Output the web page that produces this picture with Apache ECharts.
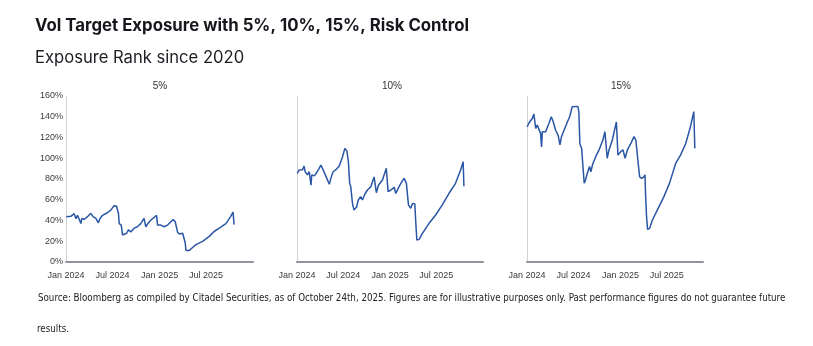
<!DOCTYPE html>
<html>
<head>
<meta charset="utf-8">
<script src="https://cdn.jsdelivr.net/npm/echarts@6/dist/echarts.min.js"></script>
<style>
  html, body { margin: 0; padding: 0; background: #ffffff; }
  #chart { width: 813px; height: 346px; }
</style>
</head>
<body>
<div id="chart"></div>
<script>
// Vol-target exposure rank, three risk-control levels
const panelTitles = ['5%', '10%', '15%'];
const tickDates = ['2024-01-01', '2024-07-01', '2025-01-01', '2025-07-01'];
const tickLabels = ['Jan 2024', 'Jul 2024', 'Jan 2025', 'Jul 2025'];

const dates5 = ['2024-01-02','2024-01-08','2024-01-20','2024-02-02','2024-02-09','2024-02-15','2024-02-22','2024-02-28','2024-03-03','2024-03-12','2024-03-25','2024-04-07','2024-04-16','2024-04-27','2024-05-06','2024-05-13','2024-05-23','2024-06-11','2024-06-24','2024-07-07','2024-07-16','2024-07-24','2024-07-27','2024-08-04','2024-08-09','2024-08-15','2024-08-25','2024-09-01','2024-09-10','2024-09-23','2024-10-06','2024-10-19','2024-11-01','2024-11-08','2024-11-15','2024-11-28','2024-12-20','2024-12-24','2025-01-06','2025-01-19','2025-02-01','2025-02-14','2025-02-23','2025-03-03','2025-03-12','2025-03-19','2025-04-01','2025-04-07','2025-04-11','2025-04-14','2025-04-27','2025-05-10','2025-05-23','2025-06-18','2025-07-14','2025-08-02','2025-08-22','2025-09-17','2025-10-06','2025-10-15','2025-10-19'];
const exposure5 = [43.7,45,44,46.6,41.8,45,41,37,42,41,43.7,46.9,43.7,42,37.8,42,45,47.5,50,54.3,54,47,37,35.6,26,25,27.7,30.9,29,32.6,34,37,42,34,36.6,40.5,45,35.6,35.6,34,35.6,38.8,41,38.8,29,27,27.7,27,18.6,11.2,11.2,14,16.7,19.9,24.7,29.4,32.6,37,44,48.2,36];

const dates10 = ['2024-01-02','2024-01-10','2024-01-16','2024-01-23','2024-01-29','2024-02-02','2024-02-08','2024-02-11','2024-02-18','2024-02-25','2024-02-28','2024-03-09','2024-03-18','2024-03-28','2024-04-04','2024-04-10','2024-04-17','2024-04-23','2024-04-30','2024-05-07','2024-05-13','2024-05-22','2024-06-02','2024-06-15','2024-06-28','2024-07-07','2024-07-15','2024-07-21','2024-07-26','2024-07-30','2024-08-06','2024-08-12','2024-08-22','2024-08-29','2024-09-07','2024-09-14','2024-09-25','2024-10-04','2024-10-17','2024-10-30','2024-11-08','2024-11-16','2024-12-02','2024-12-17','2024-12-24','2025-01-04','2025-01-17','2025-01-23','2025-02-05','2025-02-16','2025-02-25','2025-03-06','2025-03-14','2025-03-23','2025-03-30','2025-04-08','2025-04-12','2025-04-16','2025-04-25','2025-05-08','2025-06-03','2025-06-29','2025-07-25','2025-08-20','2025-09-15','2025-10-05','2025-10-15','2025-10-18'];
const exposure10 = [85.5,88.7,90.3,89,92.5,87,88.7,84,87,74,84,83,86,90.3,93.5,90.3,88.7,83,83,75,80.6,87,89,92.5,101.5,109.5,107,96.7,75.8,73,56.5,50,53,59.8,63,59.8,66,69.4,72.6,82,66.8,74,79,90.3,67.8,69.4,72,66,72.6,77.4,80.6,75.8,55,51.7,56.5,56,37.3,21.2,21.8,27.6,37.3,45.3,55,66,75.8,88.7,96.7,73];

const dates15 = ['2024-01-02','2024-01-08','2024-01-15','2024-01-22','2024-01-28','2024-02-04','2024-02-10','2024-02-16','2024-02-23','2024-02-27','2024-03-01','2024-03-07','2024-03-14','2024-03-27','2024-04-05','2024-04-13','2024-04-22','2024-05-02','2024-05-09','2024-05-15','2024-05-25','2024-06-07','2024-06-16','2024-06-26','2024-07-03','2024-07-18','2024-07-22','2024-07-26','2024-08-02','2024-08-07','2024-08-12','2024-08-17','2024-08-24','2024-09-02','2024-09-07','2024-09-15','2024-09-26','2024-10-09','2024-10-24','2024-11-01','2024-11-10','2024-11-17','2024-11-30','2024-12-16','2024-12-22','2025-01-02','2025-01-11','2025-01-19','2025-01-28','2025-02-10','2025-02-23','2025-03-02','2025-03-12','2025-03-17','2025-03-25','2025-04-03','2025-04-07','2025-04-09','2025-04-13','2025-04-17','2025-04-25','2025-05-06','2025-05-25','2025-06-20','2025-07-12','2025-08-05','2025-08-24','2025-09-13','2025-10-02','2025-10-15','2025-10-19'];
const exposure15 = [130.4,133.7,135.3,138.5,142.6,128.8,132,133.7,124,111,125.6,127,125.6,133.7,140,135,127,122,112.8,120.8,127,135,140,149.7,150,150,145,114,109.5,92,76,79,85.5,92,87,95,101.5,108,117.6,125.6,100,108,117.6,135,103,106.3,108,100,108,114,120.8,117.6,93.5,82,80.6,82,84,66,43.7,31.5,32.4,40.5,50,63,76,95,103,114,130.4,145,109.5];

const titleText = 'Vol Target Exposure with 5%, 10%, 15%, Risk Control';
const subtitleText = 'Exposure Rank since 2020';
const sourceLine1 = 'Source: Bloomberg as compiled by Citadel Securities, as of October 24th, 2025. Figures are for illustrative purposes only. Past performance figures do not guarantee future';
const sourceLine2 = 'results.';

function ts(s) {
  const p = s.split('-').map(Number);
  return Date.UTC(p[0], p[1] - 1, p[2]);
}
const tickValues = tickDates.map(ts);

const panels = [
  { dates: dates5, values: exposure5, left: 66, width: 187, max: '2026-01-01', showY: true, titleX: 160 },
  { dates: dates10, values: exposure10, left: 297, width: 186, max: '2026-01-01', showY: false, titleX: 392 },
  { dates: dates15, values: exposure15, left: 527, width: 176, max: '2025-11-20', showY: false, titleX: 621 }
];

const LINE = '#2a56a6';
const AXIS_TEXT = '#3a3a3a';
const SOURCE_FONT = '9.7px "Liberation Sans Narrow", "DejaVu Sans Condensed", sans-serif';

const grids = [], xAxes = [], yAxes = [], series = [];
panels.forEach((p, i) => {
  grids.push({ left: p.left, top: 96, width: p.width, height: 166 });
  xAxes.push({
    type: 'value',
    gridIndex: i,
    min: ts('2024-01-01'),
    max: ts(p.max),
    axisLine: { show: true, onZero: false, lineStyle: { color: '#8f949c', width: 2 } },
    axisTick: { show: false },
    splitLine: { show: false },
    axisLabel: {
      customValues: tickValues,
      formatter: (v) => {
        const k = tickValues.indexOf(v);
        return k >= 0 ? tickLabels[k] : '';
      },
      color: AXIS_TEXT,
      fontSize: 9,
      fontFamily: 'Liberation Sans, Arial, sans-serif',
      margin: 9,
      hideOverlap: false
    }
  });
  yAxes.push({
    type: 'value',
    gridIndex: i,
    min: 0,
    max: 160,
    interval: 20,
    axisLine: { show: true, lineStyle: { color: '#cfd1d4', width: 1 } },
    axisTick: { show: false },
    splitLine: { show: false },
    axisLabel: {
      show: p.showY,
      formatter: '{value}%',
      color: AXIS_TEXT,
      fontSize: 9,
      fontFamily: 'Liberation Sans, Arial, sans-serif',
      margin: 3
    }
  });
  series.push({
    type: 'line',
    xAxisIndex: i,
    yAxisIndex: i,
    data: p.dates.map((d, k) => [ts(d), p.values[k]]),
    symbol: 'none',
    lineStyle: { color: LINE, width: 1.5 },
    silent: true,
    animation: false
  });
});

const graphics = [
  { type: 'text', x: 35, y: 25.5, style: { text: titleText, font: 'bold 16.8px Inter, sans-serif', fill: '#16161d', verticalAlign: 'middle' } },
  { type: 'text', x: 35, y: 58, style: { text: subtitleText, font: '16.6px Inter, sans-serif', fill: '#1c1c22', verticalAlign: 'middle' } },
  { type: 'text', x: 38, y: 298, style: { text: sourceLine1, font: SOURCE_FONT, fill: '#222222', verticalAlign: 'middle' } },
  { type: 'text', x: 37, y: 329, style: { text: sourceLine2, font: SOURCE_FONT, fill: '#222222', verticalAlign: 'middle' } }
];
panels.forEach((p, i) => {
  graphics.push({
    type: 'text',
    x: p.titleX,
    y: 86,
    style: { text: panelTitles[i], font: '10px "Liberation Sans", Arial, sans-serif', fill: '#333333', align: 'center', verticalAlign: 'middle' }
  });
});

const chart = echarts.init(document.getElementById('chart'), null, { renderer: 'canvas' });
chart.setOption({
  animation: false,
  backgroundColor: '#ffffff',
  grid: grids,
  xAxis: xAxes,
  yAxis: yAxes,
  series: series,
  graphic: graphics
});
</script>
</body>
</html>
